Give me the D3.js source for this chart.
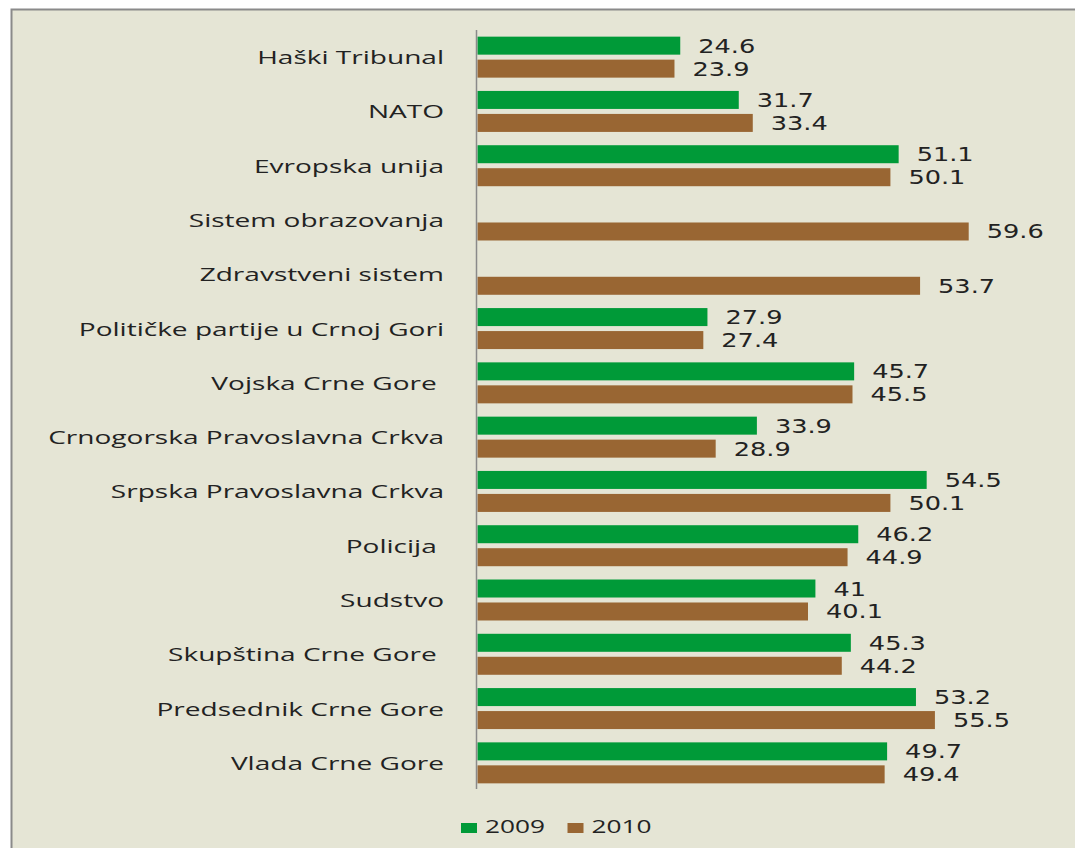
<!DOCTYPE html>
<html>
<head>
<meta charset="utf-8">
<script src="https://cdn.jsdelivr.net/npm/d3@7"></script>
<style>
  html, body { margin: 0; padding: 0; background: #ffffff; }
  svg { display: block; }
  text { white-space: pre; }
</style>
</head>
<body>
<svg id="chart" width="1075" height="848"></svg>
<script>
const categories = [
  "Haški Tribunal",
  "NATO",
  "Evropska unija",
  "Sistem obrazovanja",
  "Zdravstveni sistem",
  "Političke partije u Crnoj Gori",
  "Vojska Crne Gore ",
  "Crnogorska Pravoslavna Crkva",
  "Srpska Pravoslavna Crkva",
  "Policija ",
  "Sudstvo",
  "Skupština Crne Gore ",
  "Predsednik Crne Gore",
  "Vlada Crne Gore"
];
const series = ["2009", "2010"];
const values2009 = [24.6, 31.7, 51.1, null, null, 27.9, 45.7, 33.9, 54.5, 46.2, 41, 45.3, 53.2, 49.7];
const values2010 = [23.9, 33.4, 50.1, 59.6, 53.7, 27.4, 45.5, 28.9, 50.1, 44.9, 40.1, 44.2, 55.5, 49.4];
const colors = { "2009": "#009a38", "2010": "#996633" };

const svg = d3.select("#chart");

// frame / background
svg.append("rect")
  .attr("x", 11.5).attr("y", 9.5)
  .attr("width", 1075).attr("height", 860)
  .attr("fill", "#e5e5d5")
  .attr("stroke", "#8a8a8a")
  .attr("stroke-width", 2);

const catFont = "'Open Sans', 'Noto Sans', sans-serif";
const valFont = "'DejaVu Sans', Verdana, sans-serif";

function measure(str, font, size) {
  const t = svg.append("text").attr("font-family", font).attr("font-size", size).text(str);
  const w = t.node().getComputedTextLength();
  t.remove();
  return w;
}
const catSize = 18.6, valSize = 19.2, legSize = 17.6;
const catSx = 396 / measure("Crnogorska Pravoslavna Crkva", catFont, catSize);
const valSx = 57 / measure("54.5", valFont, valSize);
const legSx = 60 / measure("2009", catFont, legSize);

const x = d3.scaleLinear().domain([0, 60]).range([477.5, 972]);
const y0 = d3.scaleBand().domain(categories).range([30, 790]).paddingInner(0.245).paddingOuter(0.1225);
const y1 = d3.scaleBand().domain(series).range([0, y0.bandwidth()]).paddingInner(0.217);

const rows = categories.map((c, i) => ({
  cat: c,
  vals: [
    { s: "2009", v: values2009[i] },
    { s: "2010", v: values2010[i] }
  ].filter(d => d.v !== null)
}));

const g = svg.append("g");
const groups = g.selectAll("g.row").data(rows).join("g")
  .attr("class", "row")
  .attr("transform", d => `translate(0,${y0(d.cat)})`);

groups.selectAll("rect").data(d => d.vals).join("rect")
  .attr("x", x(0))
  .attr("y", d => y1(d.s))
  .attr("width", d => x(d.v) - x(0))
  .attr("height", y1.bandwidth())
  .attr("fill", d => colors[d.s]);

groups.selectAll("text.val").data(d => d.vals).join("text")
  .attr("class", "val")
  .attr("transform", d => `translate(${x(d.v) + 18},${y1(d.s) + y1.bandwidth() / 2 + 7}) scale(${valSx},1)`)
  .attr("font-family", valFont)
  .attr("font-size", valSize)
  .attr("fill", "#222")
  .text(d => d.v);

// category labels
g.selectAll("text.cat").data(categories).join("text")
  .attr("class", "cat")
  .attr("transform", d => `translate(444,${y0(d) + y0.bandwidth() / 2 + 7}) scale(${catSx},1)`)
  .attr("text-anchor", "end")
  .attr("font-family", catFont)
  .attr("font-size", catSize)
  .attr("fill", "#222")
  .text(d => d);

// axis line
svg.append("line")
  .attr("x1", 476.5).attr("x2", 476.5)
  .attr("y1", y0.range()[0]).attr("y2", y0.range()[1] - 1)
  .attr("stroke", "#8a8a8a").attr("stroke-width", 1.5);

// legend
const legX = { "2009": 461, "2010": 567.5 };
const leg = svg.append("g").selectAll("g").data(series).join("g")
  .attr("transform", d => `translate(${legX[d]},823)`);
leg.append("rect").attr("width", 16).attr("height", 10).attr("fill", d => colors[d]);
leg.append("text")
  .attr("transform", `translate(24,10.3) scale(${legSx},1)`)
  .attr("font-family", catFont)
  .attr("font-size", legSize)
  .attr("fill", "#222")
  .text(d => d);
</script>
</body>
</html>
